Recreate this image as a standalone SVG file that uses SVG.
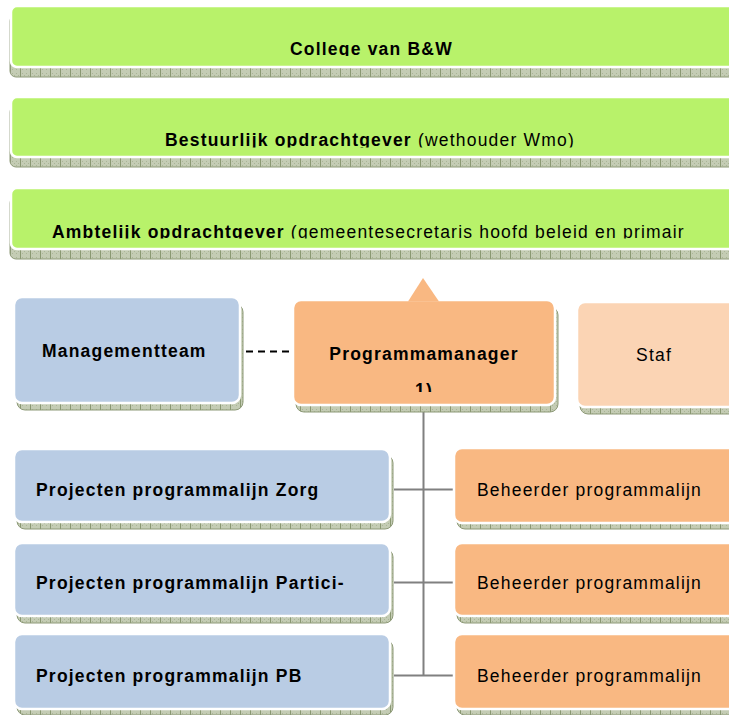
<svg xmlns="http://www.w3.org/2000/svg" width="729" height="715" viewBox="0 0 729 715">
<defs>
<pattern id="sh" width="10" height="8" patternUnits="userSpaceOnUse">
<rect width="10" height="8" fill="#c4ccb4"/>
<rect x="2" y="1" width="1" height="1" fill="#aab596"/>
<rect x="4" y="3" width="1" height="1" fill="#aab596"/>
<rect x="6" y="1" width="1" height="1" fill="#aab596"/>
<rect x="8" y="3" width="1" height="1" fill="#aab596"/>
<rect x="2" y="5" width="1" height="1" fill="#aab596"/>
<rect x="6" y="5" width="1" height="1" fill="#aab596"/>
<rect x="0" y="0" width="1" height="8" fill="#8a9872"/>
</pattern>
<clipPath id="c1"><rect x="0" y="0" width="729" height="56"/></clipPath>
<clipPath id="c2"><rect x="0" y="90" width="729" height="57.5"/></clipPath>
<clipPath id="c3"><rect x="0" y="180" width="729" height="58.5"/></clipPath>
<clipPath id="c4"><rect x="290" y="370" width="270" height="22"/></clipPath>
</defs>
<style>
.shd{fill:url(#sh);stroke:#8e9a78;stroke-width:1}
.grn{fill:#b8f26a;stroke:#fff;stroke-width:2.5}
.blu{fill:#b9cce4;stroke:#fff;stroke-width:2.5}
.org{fill:#f9b882;stroke:#fff;stroke-width:2.5}
.stf{fill:#fbd4b4;stroke:#fff;stroke-width:2.5}
text{font-family:"Liberation Sans",Arial,sans-serif;font-size:17.5px;fill:#000;letter-spacing:1.2px}
.b{font-weight:bold}
.con{stroke:#808080;stroke-width:2;fill:none}
.dash{stroke:#000;stroke-width:2;stroke-dasharray:7 5;fill:none}
</style>

<g id="college">
<rect class="shd" x="10" y="15" width="740" height="62" rx="6"/>
<rect class="grn" x="11" y="6" width="740" height="61" rx="6"/>
<text class="b" x="290" y="55" clip-path="url(#c1)">College van B&amp;W</text>
</g>

<g id="bestuurlijk">
<rect class="shd" x="10" y="106" width="740" height="61" rx="6"/>
<rect class="grn" x="11" y="97" width="740" height="60" rx="6"/>
<text x="165" y="146" clip-path="url(#c2)"><tspan class="b">Bestuurlijk opdrachtgever</tspan> (wethouder Wmo)</text>
</g>

<g id="ambtelijk">
<rect class="shd" x="10" y="197" width="740" height="62" rx="6"/>
<rect class="grn" x="11" y="188" width="740" height="61" rx="6"/>
<text x="52" y="238" clip-path="url(#c3)"><tspan class="b">Ambtelijk opdrachtgever</tspan> (gemeentesecretaris hoofd beleid en primair</text>
</g>

<g id="connectors">
<line class="dash" x1="246" y1="351.5" x2="293" y2="351.5"/>
<line class="con" x1="423.5" y1="405" x2="423.5" y2="676"/>
<line class="con" x1="394" y1="489.5" x2="454" y2="489.5"/>
<line class="con" x1="394" y1="582.5" x2="454" y2="582.5"/>
<line class="con" x1="394" y1="675.5" x2="454" y2="675.5"/>
</g>

<g id="managementteam">
<rect class="shd" x="17" y="304" width="226" height="106" rx="8"/>
<rect class="blu" x="14" y="297" width="226" height="106" rx="8"/>
<text class="b" x="42" y="357">Managementteam</text>
</g>

<g id="programmamanager">
<rect class="shd" x="296" y="307" width="262" height="105" rx="8"/>
<rect class="org" x="293" y="300" width="262" height="105" rx="8"/>
<polygon points="408,301.5 423,278 439,301.5" fill="#f9b882"/>
<text class="b" x="424" y="360" text-anchor="middle">Programmamanager</text>
<text class="b" x="424" y="396" text-anchor="middle" clip-path="url(#c4)">1)</text>
</g>

<g id="staf">
<rect class="shd" x="580" y="308" width="170" height="106" rx="8"/>
<rect class="stf" x="577" y="302" width="170" height="105" rx="8"/>
<text x="654" y="361" text-anchor="middle">Staf</text>
</g>

<g id="zorg">
<rect class="shd" x="17" y="455" width="376" height="74" rx="8"/>
<rect class="blu" x="14" y="449" width="376" height="73" rx="8"/>
<text class="b" x="36" y="496">Projecten programmalijn Zorg</text>
</g>

<g id="partici">
<rect class="shd" x="17" y="549" width="376" height="74" rx="8"/>
<rect class="blu" x="14" y="543" width="376" height="73" rx="8"/>
<text class="b" x="36" y="589">Projecten programmalijn Partici-</text>
</g>

<g id="pb">
<rect class="shd" x="17" y="640" width="376" height="75" rx="8"/>
<rect class="blu" x="14" y="634" width="376" height="75" rx="8"/>
<text class="b" x="36" y="682">Projecten programmalijn PB</text>
</g>

<g id="beheerder1">
<rect class="shd" x="457" y="454" width="290" height="75" rx="8"/>
<rect class="org" x="454" y="448" width="290" height="75" rx="8"/>
<text x="477" y="496">Beheerder programmalijn</text>
</g>

<g id="beheerder2">
<rect class="shd" x="457" y="549" width="290" height="74" rx="8"/>
<rect class="org" x="454" y="543" width="290" height="73" rx="8"/>
<text x="477" y="589">Beheerder programmalijn</text>
</g>

<g id="beheerder3">
<rect class="shd" x="457" y="640" width="290" height="75" rx="8"/>
<rect class="org" x="454" y="634" width="290" height="75" rx="8"/>
<text x="477" y="682">Beheerder programmalijn</text>
</g>
</svg>
